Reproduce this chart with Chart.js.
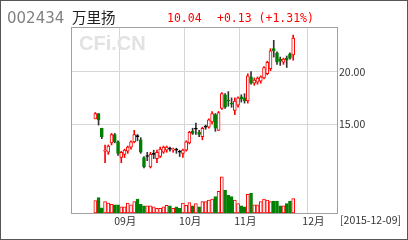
<!DOCTYPE html>
<html>
<head>
<meta charset="utf-8">
<script src="https://cdn.jsdelivr.net/npm/chart.js@4.4.1/dist/chart.umd.min.js"></script>
<style>
  html, body { margin: 0; padding: 0; background: #fff; }
  #wrap { position: relative; width: 408px; height: 240px; }
</style>
</head>
<body>
<div id="wrap"><canvas id="kline" width="408" height="240"></canvas></div>
<script>
// trading-day slots on the x axis (82 slots, data starts at slot 7)
const slotCount = 82;
const firstSlot = 7;
const monthSlots = [15, 35, 52, 73];
const monthNames = ['09月', '10月', '11月', '12月'];
const priceTicks = [15, 20];

// daily prices
const opens  = [15.5,16.0,14.6,12.4,12.3,13.2,14.0,13.3,11.8,12.1,12.4,12.8,13.3,13.8,13.5,11.8,11.9,10.9,12.1,11.7,11.9,12.3,12.5,12.6,12.5,12.5,12.3,12.2,12.5,13.2,14.3,14.5,14.2,13.8,14.7,14.7,15.2,15.9,14.4,16.5,17.8,17.3,17.0,16.3,16.8,17.6,17.5,17.2,19.5,18.9,19.0,19.1,19.4,19.8,20.3,22.2,21.8,21.2,20.9,21.3,21.7,21.6];
const highs  = [16.1,16.0,14.6,13.0,13.0,14.1,14.1,13.4,12.4,12.6,12.9,13.4,14.4,14.0,13.7,11.9,12.3,12.3,12.5,12.5,12.8,12.9,12.9,12.8,12.7,12.7,12.5,12.6,13.4,14.3,14.6,15.1,14.4,14.7,14.9,15.5,16.2,16.0,16.2,18.0,17.9,18.1,17.5,17.5,17.6,17.8,17.9,19.8,20.0,19.4,19.5,19.6,20.5,21.0,22.2,23.0,21.9,21.4,21.3,21.5,21.8,23.5];
const lows   = [15.5,14.9,13.6,11.3,12.1,13.0,13.2,12.0,11.3,11.8,12.2,12.6,13.2,13.4,12.2,10.8,11.5,10.8,11.7,11.3,11.8,12.2,12.3,12.4,12.3,12.2,11.9,11.8,12.4,13.1,14.0,14.0,13.8,13.5,14.5,14.6,15.0,14.3,14.4,16.4,16.5,16.7,16.6,15.9,16.6,17.1,17.0,17.0,18.8,18.7,18.8,18.9,19.3,19.7,20.1,21.4,20.7,20.6,20.7,20.4,21.2,21.1];
const closes = [16.0,15.4,13.8,12.5,12.9,14.0,13.3,12.2,12.3,12.5,12.8,13.3,14.0,13.8,12.3,10.9,11.9,12.1,12.1,12.3,12.6,12.8,12.8,12.6,12.6,12.5,12.3,12.5,13.3,14.2,14.1,14.5,14.0,14.6,14.7,15.4,16.0,14.6,16.1,17.9,16.6,17.2,16.9,17.2,17.5,17.4,17.2,19.6,18.9,19.2,19.4,19.5,20.4,20.9,22.0,22.0,20.9,21.0,21.2,21.1,21.3,23.2];
const volumes = [12,15,5,11,9.5,8.5,8,8,6,6,9.5,8,11,13.5,8.5,7,7,7,6,4.5,4.5,6,7.5,7,4.5,6,4.5,9.5,7.5,10,7,9,6,11,11,12.5,13.5,16,21,35,22,17,16,12.5,9,7,6,18,19,8,8,11,13.5,12.5,11,11.5,11.5,7,7,9,11.5,14];

const upColor = '#ff0000';
const downColor = '#008000';
const gridColor = '#d6d6d6';

const slots = Array.from({ length: slotCount }, (_, i) => i);
const bodies = slots.map(() => null);
const wicks = slots.map(() => null);
const vols = slots.map(() => null);
const bodyFill = [], bodyLine = [], wickFill = [], volFill = [], volLine = [];

opens.forEach((o, k) => {
  const i = k + firstSlot;
  const c = closes[k];
  bodies[i] = [o, c];
  wicks[i] = [lows[k], highs[k]];
  vols[i] = volumes[k];
  let up;
  if (c > o) up = true;
  else if (c < o) up = false;
  else up = k === 0 || c >= closes[k - 1];
  if (c > o) {
    bodyFill[i] = '#ffffff'; bodyLine[i] = upColor; wickFill[i] = upColor;
  } else if (c < o) {
    bodyFill[i] = downColor; bodyLine[i] = downColor; wickFill[i] = '#333333';
  } else {
    bodyFill[i] = '#000000'; bodyLine[i] = '#000000'; wickFill[i] = '#333333';
  }
  volFill[i] = up ? '#ffffff' : downColor;
  volLine[i] = up ? upColor : downColor;
});

const axisFont = { family: "'Noto Sans CJK JP', sans-serif", size: 10.5 };

const decor = {
  id: 'decor',
  beforeDraw(chart) {
    const ctx = chart.ctx;
    ctx.save();
    ctx.fillStyle = '#fff';
    ctx.fillRect(0, 0, chart.width, chart.height);
    ctx.restore();
  },
  beforeDatasetsDraw(chart) {
    const ctx = chart.ctx;
    ctx.save();
    ctx.fillStyle = '#e2e2e2';
    ctx.font = "bold 20px 'Liberation Sans', Arial, sans-serif";
    ctx.fillText('CFi.CN', 79, 50);
    ctx.restore();
  },
  afterDraw(chart) {
    const ctx = chart.ctx;
    const a = chart.chartArea;
    ctx.save();
    ctx.strokeStyle = '#a0a0a0';
    ctx.lineWidth = 1;
    ctx.strokeRect(Math.round(a.left) + 0.5, Math.round(a.top) + 0.5,
      Math.round(a.right - a.left), Math.round(a.bottom - a.top));

    ctx.fillStyle = '#808080';
    ctx.font = "15px 'DejaVu Sans', sans-serif";
    ctx.fillText('002434', 7, 23);
    ctx.fillStyle = '#222';
    ctx.font = "14.5px 'Noto Sans CJK SC', sans-serif";
    ctx.fillText('万里扬', 72, 23);
    ctx.fillStyle = '#ff0000';
    ctx.font = "11.5px 'DejaVu Sans Mono', monospace";
    ctx.fillText('10.04', 167, 22);
    ctx.fillText('+0.13 (+1.31%)', 217, 22);

    ctx.fillStyle = '#333';
    ctx.font = "10.5px 'Noto Sans CJK JP', sans-serif";
    ctx.fillText('[2015-12-09]', 340, 224);

    ctx.strokeStyle = '#555';
    ctx.strokeRect(0.5, 0.5, chart.width - 1, chart.height - 1);
    ctx.restore();
  }
};

new Chart(document.getElementById('kline'), {
  type: 'bar',
  data: {
    labels: slots,
    datasets: [
      {
        data: bodies, yAxisID: 'y', order: 0, grouped: false,
        backgroundColor: bodyFill, borderColor: bodyLine, borderWidth: 1,
        borderSkipped: false, barThickness: 3, minBarLength: 1
      },
      {
        data: wicks, yAxisID: 'y', order: 1, grouped: false,
        backgroundColor: wickFill, borderWidth: 0, barThickness: 1
      },
      {
        data: vols, yAxisID: 'y1', order: 2, grouped: false,
        backgroundColor: volFill, borderColor: volLine, borderWidth: 1,
        borderSkipped: false, barThickness: 3
      }
    ]
  },
  options: {
    responsive: false,
    animation: false,
    devicePixelRatio: 1,
    layout: { padding: { left: 71, top: 27, right: 0, bottom: 0 } },
    plugins: { legend: { display: false }, tooltip: { enabled: false } },
    scales: {
      x: {
        offset: true,
        border: { display: false },
        grid: {
          offset: true,
          drawTicks: false,
          color: c => monthSlots.includes(c.index) ? gridColor : 'transparent'
        },
        ticks: {
          autoSkip: false,
          maxRotation: 0,
          padding: 2,
          labelOffset: 4,
          color: '#333',
          font: axisFont,
          callback: (v, i) => {
            const m = monthSlots.indexOf(i);
            return m >= 0 ? monthNames[m] : '';
          }
        },
        afterFit: s => { s.height = 27; }
      },
      y: {
        position: 'right',
        min: 6.5,
        max: 24.27,
        border: { display: false },
        grid: { color: gridColor, drawTicks: false },
        afterBuildTicks: s => { s.ticks = priceTicks.map(v => ({ value: v })); },
        ticks: {
          padding: 2,
          color: '#333',
          font: axisFont,
          callback: v => Number(v).toFixed(2)
        },
        afterFit: s => { s.width = 71; }
      },
      y1: {
        display: false,
        min: 0,
        max: 180
      }
    }
  },
  plugins: [decor]
});
</script>
</body>
</html>
